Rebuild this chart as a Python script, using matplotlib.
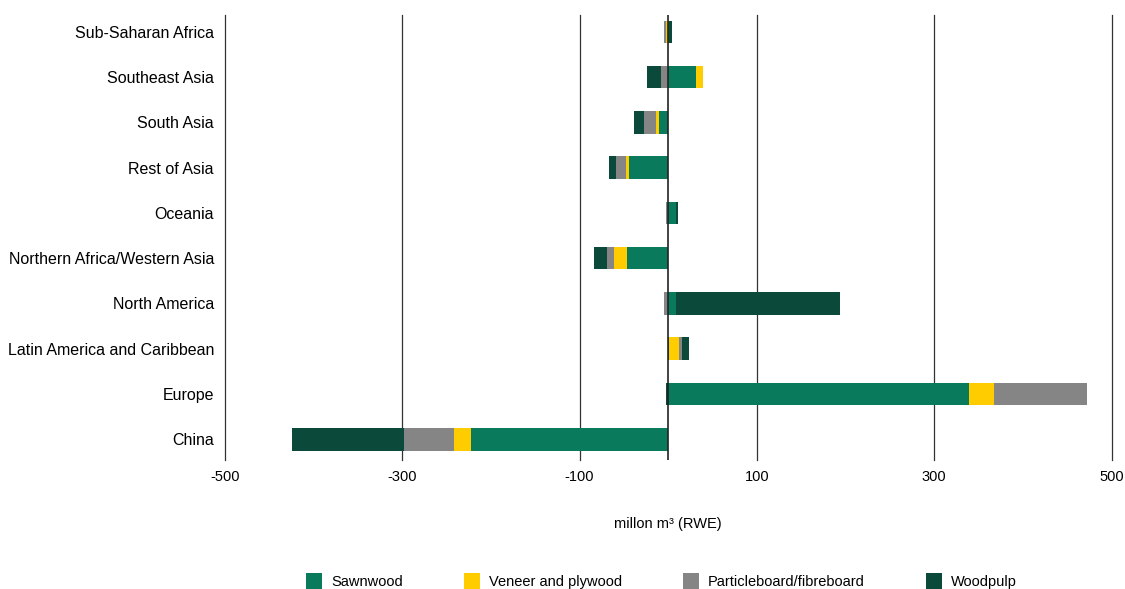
import numpy as np
import matplotlib.pyplot as plt
from matplotlib.patches import Patch

plt.rcParams['font.family'] = ['Liberation Sans', 'DejaVu Sans']

# regions, bottom to top as drawn
regions = ["China", "Europe", "Latin America and Caribbean", "North America",
           "Northern Africa/Western Asia", "Oceania", "Rest of Asia",
           "South Asia", "Southeast Asia", "Sub-Saharan Africa"]

# net trade, million m3 (RWE)
sawnwood = [-222, 339, 0.5, 8.6, -47, 8.6, -44, -10.5, 31, 1]
veneer = [-20, 28, 12, 0.3, -14, 0.5, -3.4, -3.4, 8.7, -2]
particle = [-56, 105, 3, -4.9, -8.6, -2.6, -11, -14, -8, -2.5]
woodpulp = [-126, -2, 8, 185, -14, 2.2, -8, -11, -16, 3]

xticks = [-500, -300, -100, 100, 300, 500]

series = [("Sawnwood", sawnwood, "#0a7a5c"),
          ("Veneer and plywood", veneer, "#ffcc00"),
          ("Particleboard/fibreboard", particle, "#858585"),
          ("Woodpulp", woodpulp, "#0b4a3a")]

fig = plt.figure(figsize=(11.25, 5.89), dpi=100)
ax = fig.add_axes([0.2, 0.219, 0.788, 0.756])

y = np.arange(len(regions))
pos = np.zeros(len(regions))
neg = np.zeros(len(regions))
for name, vals, col in series:
    v = np.array(vals, dtype=float)
    left = np.where(v >= 0, pos, neg)
    ax.barh(y, v, left=left, height=0.5, color=col, zorder=3)
    pos = pos + np.clip(v, 0, None)
    neg = neg + np.clip(v, None, 0)

# vertical grid lines (drawn by hand so the edge ones are not clipped)
for t in xticks:
    ax.axvline(t, color="#333333", lw=0.9, zorder=0, clip_on=False)
ax.axvline(0, color="#222222", lw=1.2, zorder=4)

ax.set_xlim(-500, 500)
ax.set_ylim(-0.46, 9.38)
ax.set_xticks(xticks)
ax.set_xticklabels([str(t) for t in xticks], fontsize=10.5)
ax.set_yticks(y)
ax.set_yticklabels(regions, fontsize=11.5)
ax.tick_params(length=0, pad=8)
ax.tick_params(axis="x", pad=7)
for s in ax.spines.values():
    s.set_visible(False)

ax.set_xlabel("millon m³ (RWE)", fontsize=10.5, labelpad=24)

handles = [Patch(facecolor=c, label=n) for n, _, c in series]
fig.legend(handles=handles, loc="lower center", bbox_to_anchor=(0.588, -0.022), ncol=4,
           frameon=False, prop={"size": 10.5},
           handlelength=1.1, handleheight=1.3, handletextpad=0.6, columnspacing=4.2)

fig.savefig("out.png", dpi=100)
